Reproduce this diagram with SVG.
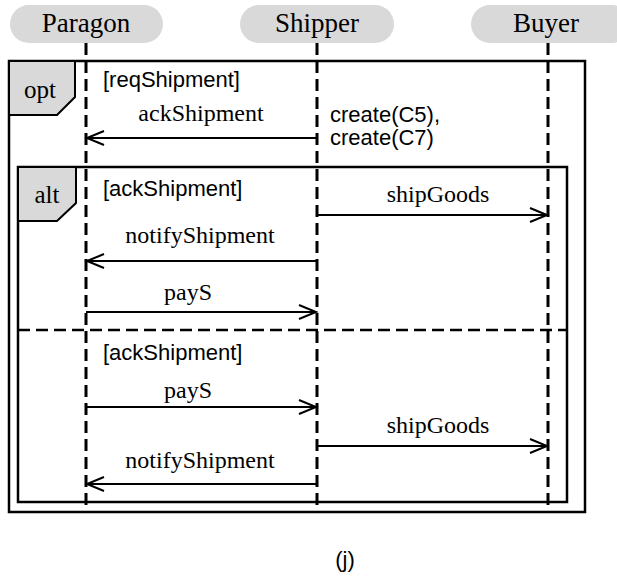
<svg xmlns="http://www.w3.org/2000/svg" width="617" height="577" viewBox="0 0 617 577">
<style>
.pill{fill:#d9d9d9;stroke:none}
.head{font-family:"Liberation Serif",serif;font-size:27px;text-anchor:middle;fill:#000}
.life{stroke:#000;stroke-width:3;stroke-dasharray:12 6;fill:none}
.frame{fill:none;stroke:#000;stroke-width:2.5}
.tab{fill:#d9d9d9;stroke:#000;stroke-width:2}
.kw{font-family:"Liberation Serif",serif;font-size:25px;text-anchor:middle;fill:#000}
.msg{font-family:"Liberation Serif",serif;font-size:24px;text-anchor:middle;fill:#000}
.grd{font-family:"Liberation Sans",Arial,sans-serif;font-size:22px;fill:#000}
.arr{stroke:#000;stroke-width:2;fill:none;marker-end:url(#open)}
.sep{stroke:#000;stroke-width:2.5;stroke-dasharray:12 6;fill:none}
</style>
<defs>
<marker id="open" markerUnits="userSpaceOnUse" markerWidth="24" markerHeight="20" viewBox="-20 -10 24 20" refX="0" refY="0" orient="auto" overflow="visible">
<path d="M -17 -7 L 0 0 L -17 7" fill="none" stroke="#000" stroke-width="2"/>
</marker>
</defs>

<g id="Paragon">
<rect class="pill" x="10" y="5" width="153" height="38" rx="19"/>
<text class="head" x="86" y="32">Paragon</text>
<line class="life" x1="86" y1="43" x2="86" y2="512"/>
</g>
<g id="Shipper">
<rect class="pill" x="240" y="5" width="154" height="38" rx="19"/>
<text class="head" x="317" y="32">Shipper</text>
<line class="life" x1="317" y1="43" x2="317" y2="512"/>
</g>
<g id="Buyer">
<rect class="pill" x="471" y="5" width="160" height="38" rx="19"/>
<text class="head" x="546" y="32">Buyer</text>
<line class="life" x1="548" y1="43" x2="548" y2="512"/>
</g>

<g id="opt">
<rect class="frame" x="9" y="61" width="576" height="451"/>
<path class="tab" d="M 9 61 H 75 V 97 L 57 115 H 9 Z"/>
<text class="kw" x="40" y="98">opt</text>
<text class="grd" x="103" y="87">[reqShipment]</text>
</g>

<g id="alt">
<rect class="frame" x="18" y="167" width="549" height="335"/>
<path class="tab" d="M 18 167 H 76 V 203 L 57 221 H 18 Z"/>
<text class="kw" x="47" y="203">alt</text>
<text class="grd" x="103" y="196">[ackShipment]</text>
<line class="sep" x1="18" y1="330" x2="567" y2="330"/>
<text class="grd" x="103" y="360">[ackShipment]</text>
</g>

<g id="connectors">
<line class="arr" x1="317" y1="138" x2="87" y2="138"/>
<text class="msg" x="201" y="121">ackShipment</text>
<text class="grd" x="330" y="122">create(C5),</text>
<text class="grd" x="330" y="145">create(C7)</text>

<line class="arr" x1="317" y1="215" x2="547" y2="215"/>
<text class="msg" x="438" y="202">shipGoods</text>
<line class="arr" x1="317" y1="261" x2="87" y2="261"/>
<text class="msg" x="200" y="243">notifyShipment</text>
<line class="arr" x1="86" y1="312" x2="316" y2="312"/>
<text class="msg" x="188" y="300">payS</text>

<line class="arr" x1="86" y1="407" x2="316" y2="407"/>
<text class="msg" x="188" y="398">payS</text>
<line class="arr" x1="317" y1="446" x2="547" y2="446"/>
<text class="msg" x="438" y="433">shipGoods</text>
<line class="arr" x1="317" y1="484" x2="87" y2="484"/>
<text class="msg" x="200" y="468">notifyShipment</text>
</g>

<text class="grd" x="345" y="567" text-anchor="middle">(j)</text>
</svg>
